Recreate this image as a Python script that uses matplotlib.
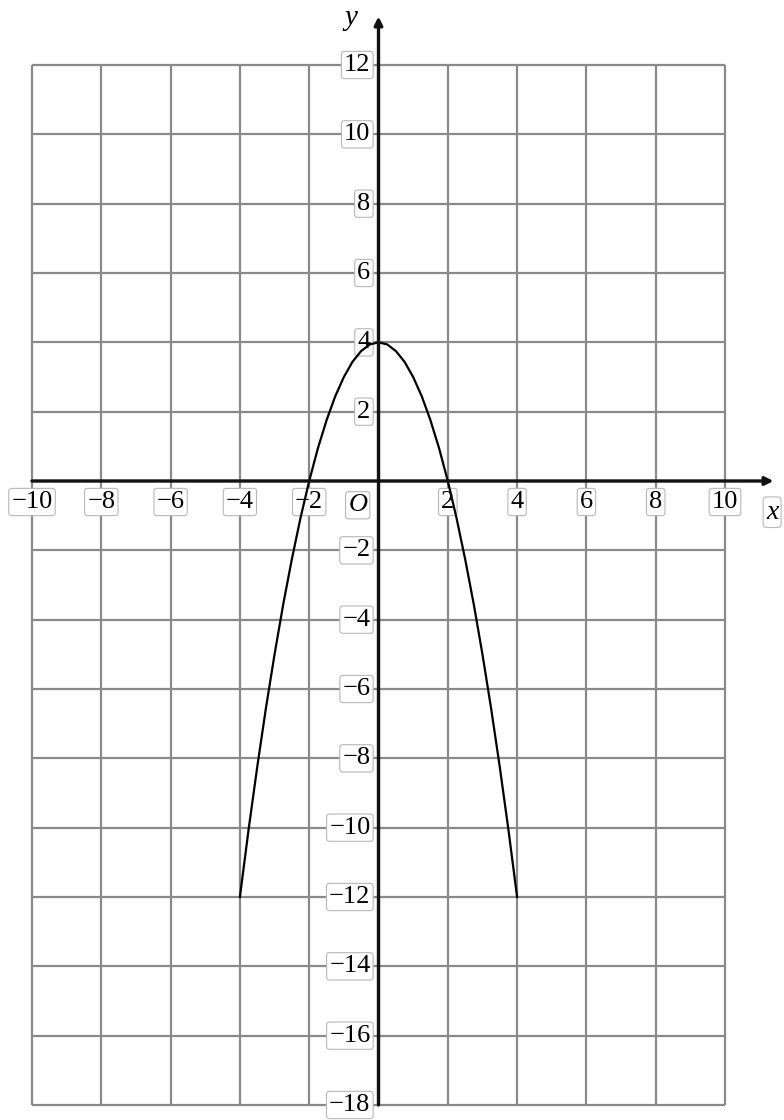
import matplotlib
matplotlib.use("Agg")
import matplotlib.pyplot as plt

# grid / tick values
x_ticks = [-10, -8, -6, -4, -2, 2, 4, 6, 8, 10]
y_ticks = [-18, -16, -14, -12, -10, -8, -6, -4, -2, 2, 4, 6, 8, 10, 12]
grid_x = [-10, -8, -6, -4, -2, 0, 2, 4, 6, 8, 10]
grid_y = [-18, -16, -14, -12, -10, -8, -6, -4, -2, 0, 2, 4, 6, 8, 10, 12]

# points
curve_x = [-4, -3.75, -3.5, -3.25, -3, -2.75, -2.5, -2.25, -2, -1.75, -1.5, -1.25, -1,
           -0.75, -0.5, -0.25, 0, 0.25, 0.5, 0.75, 1, 1.25, 1.5, 1.75, 2,
           2.25, 2.5, 2.75, 3, 3.25, 3.5, 3.75, 4]
curve_y = [-12, -10.06, -8.25, -6.56, -5, -3.56, -2.25, -1.06, 0, 0.94, 1.75, 2.44, 3,
           3.44, 3.75, 3.94, 4, 3.94, 3.75, 3.44, 3, 2.44, 1.75, 0.94, 0,
           -1.06, -2.25, -3.56, -5, -6.56, -8.25, -10.06, -12]

W, H = 784, 1120
fig = plt.figure(figsize=(W / 100, H / 100), dpi=100)
ax = fig.add_axes([32 / W, 15 / H, (725 - 32) / W, (1105 - 65) / H])
ax.set_xlim(-10, 10)
ax.set_ylim(-18, 12)
ax.axis("off")

grid_col = "#8a8a8a"
ax.vlines(grid_x, -18, 12, colors=grid_col, lw=1.6, zorder=1, clip_on=False)
ax.hlines(grid_y, -10, 10, colors=grid_col, lw=1.6, zorder=1, clip_on=False)

# axes with arrows
arr = dict(arrowstyle="-|>", lw=2.4, color="#111111", mutation_scale=12, shrinkA=0, shrinkB=0)
ax.annotate("", xy=(11.4, 0), xytext=(-10, 0), arrowprops=arr, annotation_clip=False, zorder=5)
ax.annotate("", xy=(0, 13.4), xytext=(0, -18), arrowprops=arr, annotation_clip=False, zorder=5)

font = "Liberation Serif"
fs = 19
box = dict(boxstyle="round,pad=0.1,rounding_size=0.12", fc="white", ec="#b8b8b8", lw=0.8)

for v in x_ticks:
    ax.annotate(str(v).replace("-", "\u2212"), xy=(v, 0), xytext=(0, -21),
                textcoords="offset pixels", ha="center", va="center",
                fontsize=fs, family=font, bbox=box, zorder=3, annotation_clip=False)

for v in y_ticks:
    ax.annotate(str(v).replace("-", "\u2212"), xy=(0, v), xytext=(-8, 0),
                textcoords="offset pixels", ha="right", va="center",
                fontsize=fs, family=font, bbox=box, zorder=3, annotation_clip=False)

ax.text(-0.6, -0.7, "O", fontsize=fs, family=font, style="italic",
        ha="center", va="center", bbox=box, zorder=3)
ax.text(11.36, -0.9, "x", fontsize=20, family=font, style="italic",
        ha="center", va="center", bbox=box, clip_on=False, zorder=3)
ax.text(-0.8, 13.35, "y", fontsize=21, family=font, style="italic",
        ha="center", va="center", clip_on=False, zorder=3)

ax.plot(curve_x, curve_y, color="black", lw=1.6, zorder=4)

fig.savefig("out.png", dpi=100)
